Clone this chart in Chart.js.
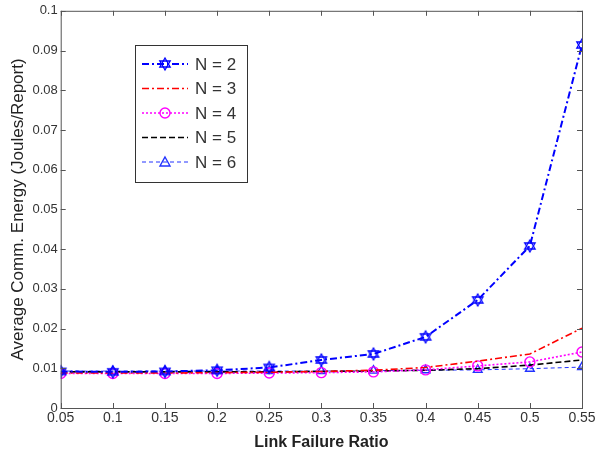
<!DOCTYPE html>
<html>
<head>
<meta charset="utf-8">
<script src="https://cdn.jsdelivr.net/npm/chart.js@4"></script>
<style>
  html, body { margin: 0; padding: 0; background: #fff; }
  #wrap { width: 598px; height: 462px; }
</style>
</head>
<body>
<div id="wrap"><canvas id="myChart" width="598" height="462"></canvas></div>
<script>
const ratios = [0.05, 0.1, 0.15, 0.2, 0.25, 0.3, 0.35, 0.4, 0.45, 0.5, 0.55];
const n2 = [0.0092, 0.0091, 0.0092, 0.0095, 0.0102, 0.0121, 0.0136, 0.0179, 0.0272, 0.0408, 0.0914];
const n3 = [0.0088, 0.0088, 0.0088, 0.0089, 0.0090, 0.0092, 0.0095, 0.0102, 0.0118, 0.0136, 0.0201];
const n4 = [0.0087, 0.0087, 0.0087, 0.0087, 0.0088, 0.0089, 0.0091, 0.0096, 0.0106, 0.0116, 0.0141];
const n5 = [0.0091, 0.0091, 0.0091, 0.0091, 0.0091, 0.0092, 0.0093, 0.0095, 0.0099, 0.0108, 0.0121];
const n6 = [0.0093, 0.0093, 0.0093, 0.0093, 0.0093, 0.0093, 0.0094, 0.0095, 0.0096, 0.0099, 0.0103];
const seriesNames = ['N = 2', 'N = 3', 'N = 4', 'N = 5', 'N = 6'];
const xTicks = [0.05, 0.1, 0.15, 0.2, 0.25, 0.3, 0.35, 0.4, 0.45, 0.5, 0.55];
const yTicks = [0, 0.01, 0.02, 0.03, 0.04, 0.05, 0.06, 0.07, 0.08, 0.09, 0.1];

// hexagram marker for N = 2
function hexagram(color, r) {
  const c = document.createElement('canvas');
  const s = Math.ceil(r * 2 + 4);
  c.width = s; c.height = s;
  const g = c.getContext('2d');
  g.strokeStyle = color;
  g.lineWidth = 1.3;
  const cx = s / 2, cy = s / 2;
  for (let k = 0; k < 2; k++) {
    g.beginPath();
    for (let i = 0; i < 3; i++) {
      const a = -Math.PI / 2 + k * Math.PI + i * 2 * Math.PI / 3;
      const px = cx + r * Math.cos(a), py = cy + r * Math.sin(a);
      if (i === 0) g.moveTo(px, py); else g.lineTo(px, py);
    }
    g.closePath();
    g.stroke();
  }
  return c;
}
const starImg = hexagram('#0000ff', 6);

const styles = [
  { color: '#0000ff', dash: [7, 3, 2, 3], width: 2, point: starImg, radius: 6 },
  { color: '#ff0000', dash: [7, 3, 2, 3], width: 1.6, point: false, radius: 0 },
  { color: '#ff00ff', dash: [2, 2], width: 1.6, point: 'circle', radius: 5 },
  { color: '#000000', dash: [6, 3], width: 1.6, point: false, radius: 0 },
  { color: '#2233ff', dash: [4, 3], width: 1, point: 'triangle', radius: 5 }
];
const allData = [n2, n3, n4, n5, n6];

const datasets = allData.map((arr, i) => ({
  label: seriesNames[i],
  data: arr.map((v, j) => ({ x: ratios[j], y: v })),
  borderColor: styles[i].color,
  backgroundColor: 'transparent',
  borderDash: styles[i].dash,
  borderWidth: styles[i].width,
  pointStyle: styles[i].point,
  pointRadius: styles[i].radius,
  pointBorderColor: styles[i].color,
  pointBorderWidth: 1.4,
  pointBackgroundColor: 'transparent',
  tension: 0
}));

const frame = {
  id: 'frame',
  afterDraw(chart) {
    const { ctx, chartArea: a, scales } = chart;
    ctx.save();
    ctx.strokeStyle = '#555';
    ctx.lineWidth = 1;
    ctx.setLineDash([]);
    ctx.strokeRect(a.left + 0.5, a.top + 0.5, a.right - a.left, a.bottom - a.top);
    ctx.beginPath();
    xTicks.forEach(t => {
      const x = Math.round(scales.x.getPixelForValue(t)) + 0.5;
      ctx.moveTo(x, a.bottom); ctx.lineTo(x, a.bottom - 5);
      ctx.moveTo(x, a.top); ctx.lineTo(x, a.top + 5);
    });
    yTicks.forEach(t => {
      const y = Math.round(scales.y.getPixelForValue(t)) + 0.5;
      ctx.moveTo(a.left, y); ctx.lineTo(a.left + 5, y);
      ctx.moveTo(a.right, y); ctx.lineTo(a.right - 5, y);
    });
    ctx.stroke();

    // legend box
    const lx = 135, ly = 45, lw = 112, lh = 137;
    ctx.fillStyle = '#fff';
    ctx.fillRect(lx, ly, lw, lh);
    ctx.strokeStyle = '#333';
    ctx.strokeRect(lx + 0.5, ly + 0.5, lw, lh);
    ctx.font = '17px "Liberation Sans", Arial, sans-serif';
    ctx.textBaseline = 'middle';
    styles.forEach((s, i) => {
      const y = ly + 19 + i * 24.5;
      ctx.strokeStyle = s.color;
      ctx.lineWidth = s.width;
      ctx.setLineDash(s.dash);
      ctx.beginPath();
      ctx.moveTo(lx + 7, y); ctx.lineTo(lx + 53, y);
      ctx.stroke();
      ctx.setLineDash([]);
      ctx.lineWidth = 1.4;
      const mx = lx + 30;
      if (s.point === starImg) {
        ctx.drawImage(starImg, mx - starImg.width / 2, y - starImg.height / 2);
      } else if (s.point === 'circle') {
        ctx.beginPath(); ctx.arc(mx, y, 5, 0, Math.PI * 2); ctx.stroke();
      } else if (s.point === 'triangle') {
        ctx.beginPath();
        ctx.moveTo(mx, y - 5); ctx.lineTo(mx + 5, y + 4); ctx.lineTo(mx - 5, y + 4);
        ctx.closePath(); ctx.stroke();
      }
      ctx.fillStyle = '#333';
      ctx.fillText(seriesNames[i], lx + 60, y + 1);
    });
    ctx.restore();
  }
};

const ctx = document.getElementById('myChart');
const myChart = new Chart(ctx, {
  type: 'line',
  data: { datasets: datasets },
  options: {
    responsive: false,
    animation: false,
    layout: { padding: { top: 6, right: 16, bottom: 10, left: 8 } },
    plugins: { legend: { display: false }, tooltip: { enabled: false } },
    scales: {
      x: {
        type: 'linear',
        min: 0.05, max: 0.55,
        afterBuildTicks(axis) { axis.ticks = xTicks.map(v => ({ value: v })); },
        ticks: {
          color: '#333',
          font: { family: '"Liberation Sans", Arial, sans-serif', size: 14 },
          maxRotation: 0, padding: 2,
          callback: v => String(Number(v.toFixed(2)))
        },
        grid: { display: false, drawTicks: false },
        border: { display: false },
        title: {
          display: true, text: 'Link Failure Ratio', color: '#222',
          font: { family: '"Liberation Sans", Arial, sans-serif', size: 16, weight: 'bold' },
          padding: { top: 4, bottom: 0 }
        }
      },
      y: {
        min: 0, max: 0.1,
        afterBuildTicks(axis) { axis.ticks = yTicks.map(v => ({ value: v })); },
        ticks: {
          color: '#333',
          font: { family: '"Liberation Sans", Arial, sans-serif', size: 13 },
          padding: 3,
          callback: v => String(Number(v.toFixed(2)))
        },
        grid: { display: false, drawTicks: false },
        border: { display: false },
        title: {
          display: true, text: 'Average Comm. Energy (Joules/Report)', color: '#222',
          font: { family: '"Liberation Sans", Arial, sans-serif', size: 17 },
          padding: { top: 0, bottom: 1 }
        }
      }
    }
  },
  plugins: [frame]
});
</script>
</body>
</html>
